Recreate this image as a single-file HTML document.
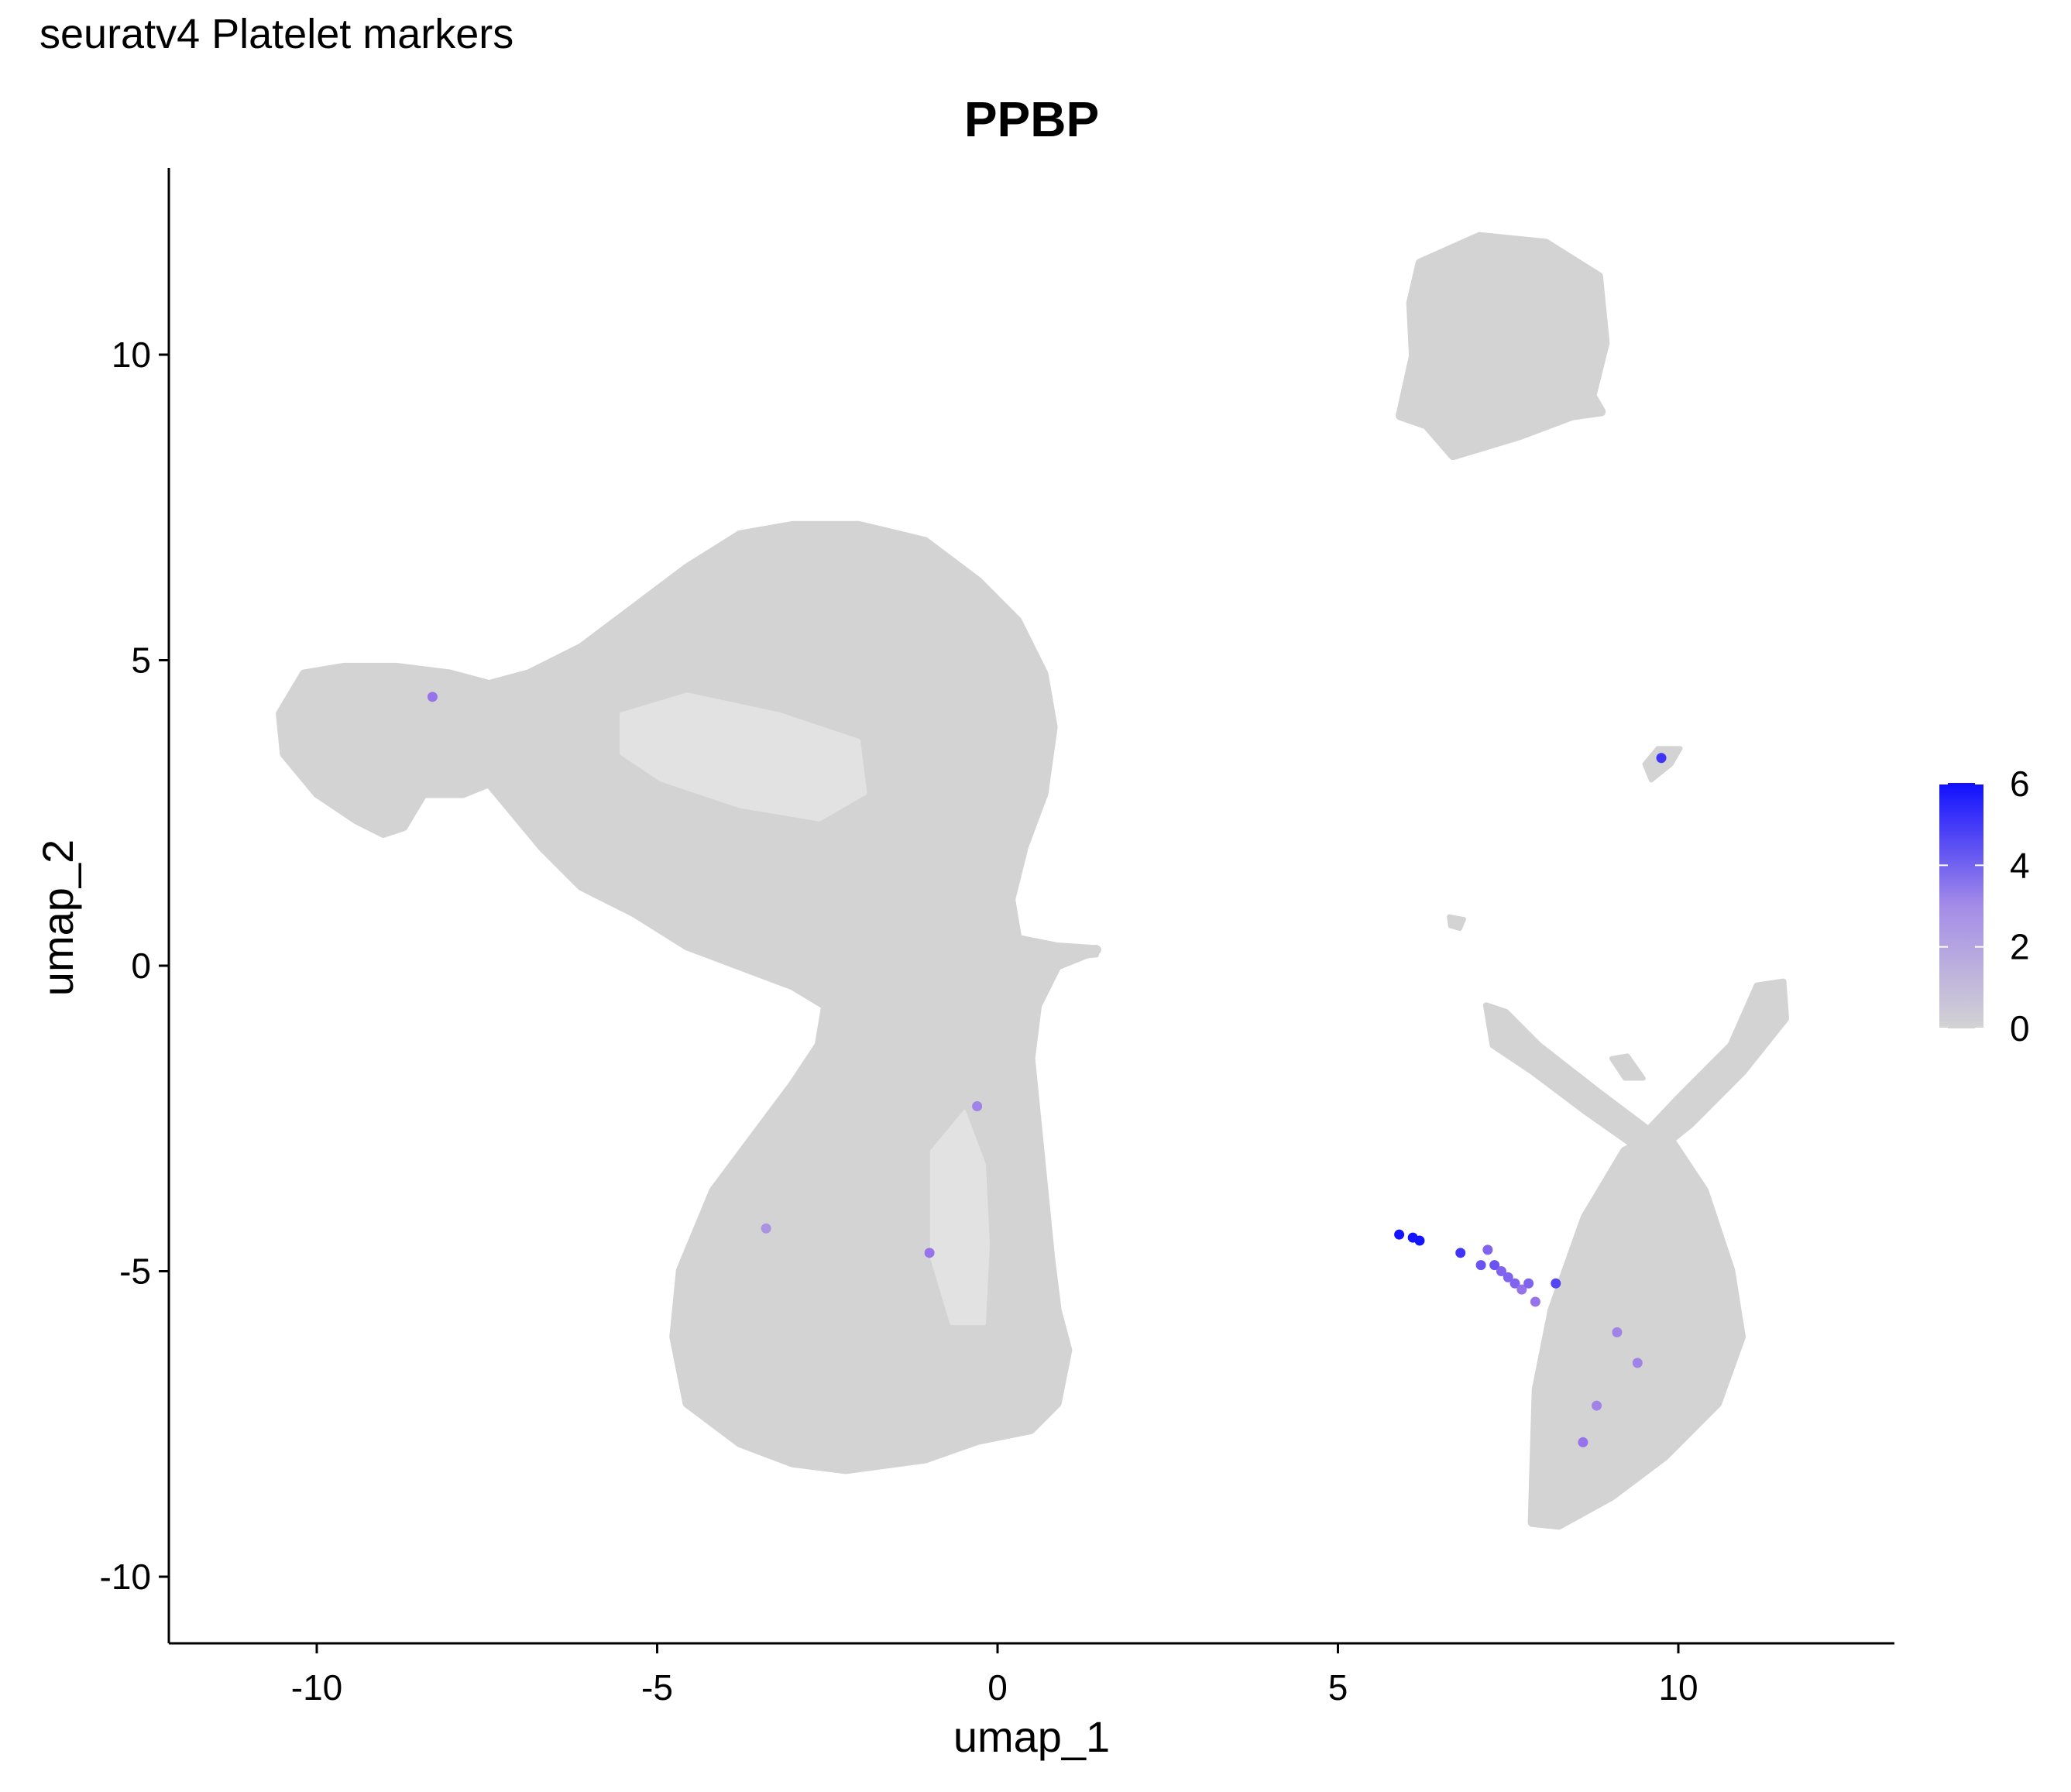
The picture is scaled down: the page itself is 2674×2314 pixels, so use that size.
<!DOCTYPE html>
<html><head><meta charset="utf-8"><style>
html,body{margin:0;padding:0;background:#fff;}
svg{display:block;font-family:"Liberation Sans",sans-serif;}
</style></head><body>
<svg id="chart" width="2674" height="2314" viewBox="0 0 2674 2314" xmlns="http://www.w3.org/2000/svg">
<defs>
<linearGradient id="lg" x1="0" y1="1" x2="0" y2="0">
<stop offset="0" stop-color="#d3d3d3"/><stop offset="0.5" stop-color="#a48ce8"/><stop offset="1" stop-color="#1010ff"/>
</linearGradient>
</defs>
<text x="51" y="62" font-size="54" fill="#000">seuratv4 Platelet markers</text>
<text x="1332" y="176" font-size="64" font-weight="bold" text-anchor="middle" fill="#000">PPBP</text>
<g id="plot"></g>
<line x1="218" y1="2122" x2="2446" y2="2122" stroke="#000" stroke-width="3"/>
<line x1="218" y1="217" x2="218" y2="2122" stroke="#000" stroke-width="3"/>
<g id="xt"></g>
<g id="yt"></g>
<text x="1332" y="2262" font-size="56" text-anchor="middle">umap_1</text>
<text transform="translate(94,1185) rotate(-90)" font-size="56" text-anchor="middle">umap_2</text>
<g>
<rect x="2504" y="1011" width="57" height="317" fill="url(#lg)"/>
<g id="lt"></g>
</g>
</svg>
<script>
const NS="http://www.w3.org/2000/svg";
const xTicks=[-10,-5,0,5,10];
const yTicks=[-10,-5,0,5,10];
const legendTicks=[0,2,4,6];
// shapes, converted to umap units
const D=p=>p.map(([a,b])=>[(a-755)/51.55,(730-b)/46.1]);
const mainBlob=D([[212,540],[230,510],[260,505],[300,505],[340,510],[370,518],[400,510],[440,490],[480,460],[520,430],[560,405],[600,398],[650,398],[700,410],[740,440],[770,470],[790,510],[797,550],[790,600],[775,640],[765,680],[770,710],[800,716],[830,718],[800,730],[785,760],[780,800],[785,850],[790,900],[795,950],[800,990],[808,1020],[800,1060],[780,1080],[740,1088],[700,1102],[640,1110],[600,1105],[560,1090],[520,1060],[510,1010],[515,960],[540,900],[570,860],[600,820],[620,790],[625,760],[600,745],[560,730],[520,715],[480,690],[440,670],[410,640],[385,610],[370,592],[350,600],[320,600],[305,625],[290,630],[270,620],[240,600],[215,570]]);
const holes=[D([[470,540],[520,525],[590,540],[650,560],[655,600],[620,620],[560,610],[500,590],[470,570]]),D([[705,870],[730,840],[745,880],[748,940],[745,1000],[720,1000],[705,950]])];
const topCluster=D([[1075,200],[1120,180],[1170,185],[1210,210],[1215,260],[1205,300],[1212,312],[1190,315],[1150,330],[1100,345],[1080,322],[1060,315],[1070,270],[1068,230]]);
const bottomCluster=D([[1160,1150],[1163,1050],[1175,990],[1200,920],[1230,870],[1260,855],[1290,900],[1310,960],[1318,1010],[1300,1060],[1260,1100],[1220,1130],[1180,1152]]);
const armRight=D([[1232,870],[1270,830],[1310,790],[1330,745],[1350,742],[1352,770],[1320,810],[1280,850],[1255,870]]);
const armLeft=D([[1240,868],[1200,840],[1160,810],[1130,790],[1125,760],[1140,765],[1165,790],[1210,825],[1250,855]]);
const smallBits=[D([[1245,578],[1255,566],[1272,566],[1265,578],[1250,590]]),D([[1220,800],[1232,798],[1244,815],[1230,815]]),D([[1097,693],[1108,695],[1105,702],[1098,700]]),D([[810,718],[830,716],[830,722],[810,724]])];
// expressing cells: umap x, umap y, expression
const cellX=[5.9,6.1,6.2,6.8,7.1,7.3,7.4,7.5,7.6,7.7,7.8,7.9,8.2,7.2,9.75,-8.3,-1.0,-0.3,9.1,8.6,8.8,9.4,-3.4];
const cellY=[-4.4,-4.45,-4.5,-4.7,-4.9,-4.9,-5.0,-5.1,-5.2,-5.3,-5.2,-5.5,-5.2,-4.65,3.4,4.4,-4.7,-2.3,-6.0,-7.8,-7.2,-6.5,-4.3];
const cellE=[6,6,6,5,4,4,3.5,3.5,3.5,3,3.5,3,4.5,3.5,5,3,3,2.5,2.5,3,2.5,2.5,2];
const X=v=>1288+v*87.9, Y=v=>1247-v*78.9;
const plot=document.getElementById('plot');
function poly(pts,fill,name,sw){const p=document.createElementNS(NS,'polygon');
p.setAttribute('points',pts.map(q=>X(q[0])+','+Y(q[1])).join(' '));
p.setAttribute('fill',fill);p.setAttribute('stroke',fill);p.setAttribute('stroke-width',sw);p.setAttribute('stroke-linejoin','round');


plot.appendChild(p);}
poly(mainBlob,'#d3d3d3','main-cluster',12);
holes.forEach(h=>{poly(h,'#ffffff','cluster-gap',4);plot.lastChild.setAttribute('opacity','0.35');});
poly(topCluster,'#d3d3d3','top-cluster',12);
poly(bottomCluster,'#d3d3d3','bottom-right-cluster',12);
poly(armRight,'#d3d3d3','right-arm',8);
poly(armLeft,'#d3d3d3','left-arm',8);
smallBits.forEach(s=>poly(s,'#d3d3d3','small-cluster',6));
function col(e){const t=Math.min(e/6,1);
const a=[211,211,211],m=[150,115,235],b=[20,20,255];
let c;if(t<0.5){const u=t/0.5;c=a.map((v,i)=>v+(m[i]-v)*u);}else{const u=(t-0.5)/0.5;c=m.map((v,i)=>v+(b[i]-v)*u);}
return `rgb(${c.map(Math.round).join(',')})`;}
cellX.forEach((x,i)=>{const c=document.createElementNS(NS,'circle');
c.setAttribute('cx',X(x));c.setAttribute('cy',Y(cellY[i]));c.setAttribute('r',6.5);c.setAttribute('fill',col(cellE[i]));


plot.appendChild(c);});
const xt=document.getElementById('xt'),yt=document.getElementById('yt'),lt=document.getElementById('lt');
xTicks.forEach(v=>{const l=document.createElementNS(NS,'line');l.setAttribute('x1',X(v));l.setAttribute('x2',X(v));l.setAttribute('y1',2122);l.setAttribute('y2',2135);l.setAttribute('stroke','#000');l.setAttribute('stroke-width',3);


xt.appendChild(l);
const t=document.createElementNS(NS,'text');t.setAttribute('x',X(v));t.setAttribute('y',2195);t.setAttribute('font-size',46);t.setAttribute('text-anchor','middle');t.textContent=v;


xt.appendChild(t);});
yTicks.forEach(v=>{const l=document.createElementNS(NS,'line');l.setAttribute('x1',205);l.setAttribute('x2',218);l.setAttribute('y1',Y(v));l.setAttribute('y2',Y(v));l.setAttribute('stroke','#000');l.setAttribute('stroke-width',3);


yt.appendChild(l);
const t=document.createElementNS(NS,'text');t.setAttribute('x',195);t.setAttribute('y',Y(v)+16);t.setAttribute('font-size',46);t.setAttribute('text-anchor','end');t.textContent=v;


yt.appendChild(t);});
const LY=v=>1328-v*(1328-1012)/6;
legendTicks.forEach(v=>{[2504,2550].forEach(x0=>{const l=document.createElementNS(NS,'line');l.setAttribute('x1',x0);l.setAttribute('x2',x0+11);l.setAttribute('y1',LY(v));l.setAttribute('y2',LY(v));l.setAttribute('stroke','#fff');l.setAttribute('stroke-width',2);


lt.appendChild(l);});
const t=document.createElementNS(NS,'text');t.setAttribute('x',2595);t.setAttribute('y',LY(v)+16);t.setAttribute('font-size',46);t.textContent=v;


lt.appendChild(t);});
</script>
</body></html>
